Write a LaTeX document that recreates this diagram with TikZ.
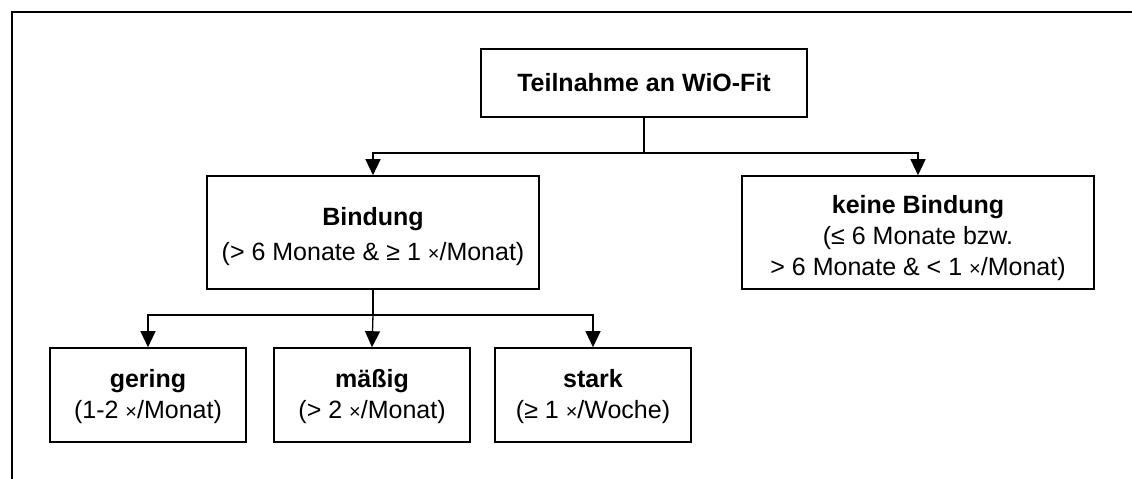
\documentclass[tikz,border=0pt]{standalone}
\usepackage{fontspec}
\setmainfont{Liberation Sans}
\usetikzlibrary{arrows.meta}
\tikzset{
  box/.style={draw=black, line width=1.6pt, rectangle, inner sep=0pt},
  txt/.style={align=center, inner sep=0pt, font=\fontsize{25}{31}\selectfont},
  conn/.style={draw=black, line width=1.3pt},
  arr/.style={conn, -{Triangle[length=16pt,width=15pt]}},
  frame/.style={draw=black, line width=2pt}
}
\newcommand{\mal}{{\fontsize{20}{20}\selectfont ×}/}
\begin{document}
\begin{tikzpicture}[x=1pt,y=-1pt]
\useasboundingbox (0,0) rectangle (1132,479);
\coordinate (fa) at (12,479);
\coordinate (fb) at (12,12);
\coordinate (fc) at (1132,12);
\draw[frame] (fa) -- (fb) -- (fc);

\node[box, minimum width=326pt, minimum height=68pt] (top) at (644,83) {};
\node[txt] (toptxt) at (top.center) {\textbf{Teilnahme an WiO-Fit}};

\node[box, minimum width=332pt, minimum height=113pt] (bind) at (373,232.5) {};
\node[txt] (bindtxt) at ([yshift=-4pt]bind.center)
  {\textbf{Bindung}\\[4pt](> 6 Monate \& ≥ 1 \mal Monat)};

\node[box, minimum width=352pt, minimum height=113pt] (keine) at (918,232.5) {};
\node[txt] (keinetxt) at ([yshift=-6pt]keine.center)
  {\textbf{keine Bindung}\\(≤ 6 Monate bzw.\\> 6 Monate \& < 1 \mal Monat)};

\node[box, minimum width=196pt, minimum height=94pt] (gering) at (148,395) {};
\node[txt] (geringtxt) at ([yshift=-2pt]gering.center) {\textbf{gering}\\(1-2 \mal Monat)};
\node[box, minimum width=196pt, minimum height=94pt] (massig) at (372,395) {};
\node[txt] (massigtxt) at ([yshift=-2pt]massig.center) {\textbf{mäßig}\\(> 2 \mal Monat)};
\node[box, minimum width=196pt, minimum height=94pt] (stark) at (593,395) {};
\node[txt] (starktxt) at ([yshift=-2pt]stark.center) {\textbf{stark}\\(≥ 1 \mal Woche)};

\coordinate (j1) at (644,153);
\draw[conn] (top.south) -- (j1);
\draw[arr] (j1) -| (bind.north);
\draw[arr] (j1) -| (keine.north);

\coordinate (j2) at (373,315);
\draw[conn] (bind.south) -- (j2);
\draw[arr] (j2) -| (gering.north);
\draw[arr] (j2) -- (massig.north);
\draw[arr] (j2) -| (stark.north);
\end{tikzpicture}
\end{document}
